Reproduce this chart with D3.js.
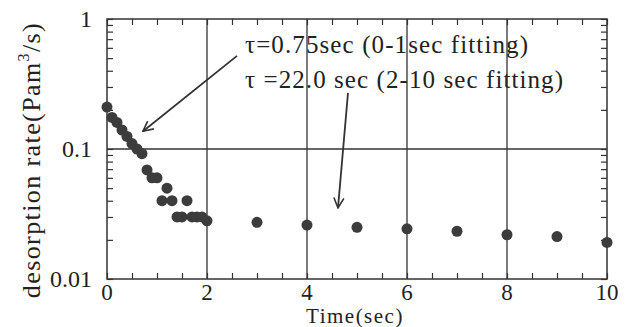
<!DOCTYPE html>
<html>
<head>
<meta charset="utf-8">
<script src="https://cdn.jsdelivr.net/npm/d3@7"></script>
<style>
  body { margin: 0; background: #fff; }
</style>
</head>
<body>
<script>
// desorption rate vs time, early part sampled every 0.1 s, then every 1 s
var times = [0, 0.1, 0.2, 0.3, 0.4, 0.5, 0.6, 0.7, 0.8, 0.9, 1.0,
             1.1, 1.2, 1.3, 1.4, 1.5, 1.6, 1.7, 1.8, 1.9, 2.0,
             3, 4, 5, 6, 7, 8, 9, 10];
var rates = [0.21, 0.175, 0.16, 0.14, 0.125, 0.11, 0.1, 0.092, 0.069, 0.06, 0.06,
             0.04, 0.05, 0.04, 0.03, 0.03, 0.04, 0.03, 0.03, 0.03, 0.028,
             0.0273, 0.026, 0.025, 0.0243, 0.0233, 0.0219, 0.0212, 0.0191];
var xTicks = [0, 2, 4, 6, 8, 10];
var yTicks = [0.01, 0.1, 1];
var yTickLabels = ["0.01", "0.1", "1"];

// annotations (data units)
var notes = [
    { text: "\u03c4=0.75sec (0-1sec fitting)", t: 2.76, v: 0.55, len: 283 },
    { text: "\u03c4 =22.0 sec (2-10 sec fitting)", t: 2.76, v: 0.297, len: 318 }
];
var arrows = [
    { t0: 2.6, v0: 0.52, t1: 0.72, v1: 0.137 },
    { t0: 4.82, v0: 0.27, t1: 4.62, v1: 0.0352 }
];

var w = 632, h = 327;
var serif = "'Times New Roman', 'Liberation Serif', Tinos, serif";

var svg = d3.select("body").append("svg")
    .attr("width", w)
    .attr("height", h)
    .style("font-family", serif);

var x = d3.scaleLinear().domain([0, 10]).range([107, 607]);
var y = d3.scaleLog().domain([0.01, 1]).range([279, 19]);

var ink = "#333";
var txt = "#222";

// annotation text first so the grid runs over it like the scan
svg.selectAll(".note")
    .data(notes)
    .enter()
    .append("text")
    .attr("class", "note")
    .attr("x", function(d) { return x(d.t); })
    .attr("y", function(d) { return y(d.v); })
    .attr("textLength", function(d) { return d.len; })
    .attr("lengthAdjust", "spacing")
    .style("font-family", serif)
    .style("font-size", "25px")
    .style("fill", txt)
    .text(function(d) { return d.text; });

// grid lines
svg.selectAll(".vgrid")
    .data([2, 4, 6, 8])
    .enter()
    .append("line")
    .attr("x1", function(d) { return x(d); })
    .attr("x2", function(d) { return x(d); })
    .attr("y1", y(1))
    .attr("y2", y(0.01))
    .style("stroke", ink)
    .style("stroke-width", 1.3);

svg.append("line")
    .attr("x1", x(0)).attr("x2", x(10))
    .attr("y1", y(0.1)).attr("y2", y(0.1))
    .style("stroke", ink)
    .style("stroke-width", 1.3);

// frame
svg.append("rect")
    .attr("x", x(0))
    .attr("y", y(1))
    .attr("width", x(10) - x(0))
    .attr("height", y(0.01) - y(1))
    .style("fill", "none")
    .style("stroke", ink)
    .style("stroke-width", 1.5);

// axes with inward ticks
var xMinor = d3.range(0, 10.01, 0.5);
var yMinor = y.ticks();

svg.append("g")
    .attr("transform", "translate(0," + y(0.01) + ")")
    .call(d3.axisTop(x).tickValues(xMinor).tickSize(6).tickFormat(""))
    .call(function(g) { g.select(".domain").remove(); });
svg.append("g")
    .attr("transform", "translate(0," + y(1) + ")")
    .call(d3.axisBottom(x).tickValues(xMinor).tickSize(6).tickFormat(""))
    .call(function(g) { g.select(".domain").remove(); });
svg.append("g")
    .attr("transform", "translate(" + x(0) + ",0)")
    .call(d3.axisRight(y).tickValues(yMinor).tickSize(6).tickFormat(""))
    .call(function(g) { g.select(".domain").remove(); });
svg.append("g")
    .attr("transform", "translate(" + x(10) + ",0)")
    .call(d3.axisLeft(y).tickValues(yMinor).tickSize(6).tickFormat(""))
    .call(function(g) { g.select(".domain").remove(); });
svg.selectAll(".tick line").style("stroke", ink).style("stroke-width", 1.2);

// tick labels
svg.selectAll(".xlab")
    .data(xTicks)
    .enter()
    .append("text")
    .attr("class", "xlab")
    .attr("text-anchor", "middle")
    .attr("x", function(d) { return x(d); })
    .attr("y", 300)
    .style("font-family", serif)
    .style("font-size", "23px")
    .style("fill", txt)
    .text(function(d) { return d; });

svg.selectAll(".ylab")
    .data(yTicks)
    .enter()
    .append("text")
    .attr("class", "ylab")
    .attr("text-anchor", "end")
    .attr("x", 92)
    .attr("y", function(d) { return y(d) + 8; })
    .style("font-family", serif)
    .style("font-size", "24px")
    .style("fill", txt)
    .text(function(d, i) { return yTickLabels[i]; });

// axis titles
svg.append("text")
    .attr("text-anchor", "middle")
    .attr("x", 355)
    .attr("y", 323)
    .style("font-family", serif)
    .style("font-size", "21px")
    .style("letter-spacing", "1.5px")
    .style("fill", txt)
    .text("Time(sec)");

var yTitle = svg.append("text")
    .attr("text-anchor", "middle")
    .attr("transform", "translate(40,160) rotate(-90)")
    .style("font-family", serif)
    .style("font-size", "26px")
    .style("letter-spacing", "1.4px")
    .style("fill", txt);
yTitle.append("tspan").text("desorption rate(Pam");
yTitle.append("tspan").attr("dy", -11).style("font-size", "16px").text("3");
yTitle.append("tspan").attr("dy", 11).text("/s)");

// arrows
svg.append("defs").append("marker")
    .attr("id", "head")
    .attr("viewBox", "0 0 12 12")
    .attr("refX", 11)
    .attr("refY", 6)
    .attr("markerWidth", 12)
    .attr("markerHeight", 12)
    .attr("markerUnits", "userSpaceOnUse")
    .attr("orient", "auto")
    .append("path")
    .attr("d", "M1,1 L11,6 L1,11")
    .style("fill", "none")
    .style("stroke", ink)
    .style("stroke-width", 1.6);

svg.selectAll(".arrow")
    .data(arrows)
    .enter()
    .append("line")
    .attr("class", "arrow")
    .attr("x1", function(d) { return x(d.t0); })
    .attr("y1", function(d) { return y(d.v0); })
    .attr("x2", function(d) { return x(d.t1); })
    .attr("y2", function(d) { return y(d.v1); })
    .attr("marker-end", "url(#head)")
    .style("stroke", ink)
    .style("stroke-width", 1.8);

// data points
svg.selectAll(".pt")
    .data(times)
    .enter()
    .append("circle")
    .attr("class", "pt")
    .attr("cx", function(d) { return x(d); })
    .attr("cy", function(d, i) { return y(rates[i]); })
    .attr("r", 5.5)
    .style("fill", "#3c3c3c");
</script>
</body>
</html>
